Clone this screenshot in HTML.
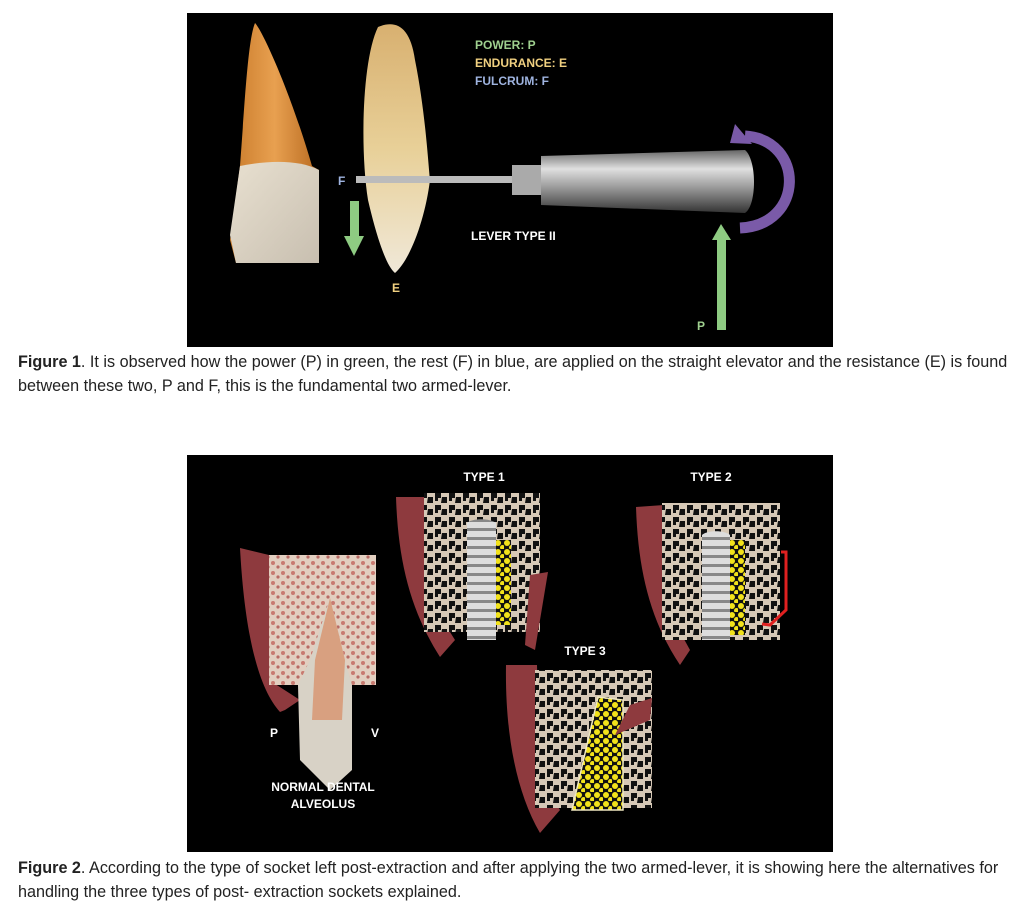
<!DOCTYPE html>
<html><head><meta charset="utf-8"><style>
html,body{margin:0;padding:0;background:#fff;width:1024px;height:911px;overflow:hidden}
svg{position:absolute;left:0;top:0}
.cap{position:absolute;left:18px;width:1018px;transform:scaleX(0.975);transform-origin:0 0;font-family:"Liberation Sans",sans-serif;font-size:16.6px;line-height:23.5px;color:#222}
.cap b{font-weight:bold}
</style></head><body>
<svg width="1024" height="911" viewBox="0 0 1024 911">
<defs>
<linearGradient id="t1" x1="0" y1="0" x2="1" y2="0"><stop offset="0" stop-color="#c87a2a"/><stop offset=".5" stop-color="#e8a050"/><stop offset="1" stop-color="#b86a20"/></linearGradient>
<linearGradient id="cr" x1="0" y1="0" x2="1" y2="1"><stop offset="0" stop-color="#e8e0d0"/><stop offset="1" stop-color="#c8bfb0"/></linearGradient>
<linearGradient id="t2" x1="0" y1="0" x2="0" y2="1"><stop offset="0" stop-color="#d8b070"/><stop offset=".5" stop-color="#e8d098"/><stop offset="1" stop-color="#f0e8d8"/></linearGradient>
<linearGradient id="hd" x1="0" y1="0" x2="0" y2="1"><stop offset="0" stop-color="#666"/><stop offset=".3" stop-color="#e0e0e0"/><stop offset=".6" stop-color="#999"/><stop offset="1" stop-color="#333"/></linearGradient>
<pattern id="bone" width="14" height="12" patternUnits="userSpaceOnUse"><rect width="14" height="12" fill="#d6c8b6"/><path d="M1 1h6v5h-3v3h-3z M8 5h5v6h-6z" fill="#111"/></pattern>
<pattern id="nb" width="10" height="10" patternUnits="userSpaceOnUse"><rect width="10" height="10" fill="#e2cfc0"/><circle cx="3" cy="3" r="2" fill="#c87a70"/><circle cx="8" cy="7" r="1.6" fill="#b86a64"/></pattern>
<pattern id="yd" width="9" height="9" patternUnits="userSpaceOnUse"><rect width="9" height="9" fill="#111"/><circle cx="3" cy="3" r="3" fill="#f2e21a"/><circle cx="7.5" cy="7.5" r="2.5" fill="#f2e21a"/></pattern>
<pattern id="th" width="10" height="9" patternUnits="userSpaceOnUse"><rect width="10" height="9" fill="#ddd"/><rect y="6" width="10" height="3" fill="#888"/></pattern>
</defs>
<rect x="187" y="13" width="646" height="334" fill="#000"/>
<path d="M255 23 C262 30 290 90 312 166 L319 170 L319 263 L236 263 L230 240 L240 166 C245 100 248 40 255 23Z" fill="url(#t1)"/>
<path d="M240 166 C270 160 300 160 319 170 L319 263 L236 263 L230 235Z" fill="url(#cr)"/>
<path d="M378 27 C395 20 410 25 415 60 C425 110 428 160 430 180 C425 220 410 260 395 273 C385 265 375 230 368 200 C360 150 362 60 378 27Z" fill="url(#t2)"/>
<rect x="356" y="176" width="156" height="7" fill="#bbb"/>
<rect x="512" y="165" width="29" height="30" fill="#aaa"/>
<path d="M541 156 L745 150 C757 160 757 205 745 213 L541 205Z" fill="url(#hd)"/>
<path d="M740 228 C805 225 805 140 745 136" fill="none" stroke="#7a5aa8" stroke-width="11"/>
<polygon points="735,124 752,144 730,143" fill="#7a5aa8"/>
<rect x="717" y="240" width="9" height="90" fill="#8ecb82"/>
<polygon points="712,240 731,240 721,224" fill="#8ecb82"/>
<rect x="350" y="201" width="9" height="36" fill="#8ecb82"/>
<polygon points="344,236 364,236 354,256" fill="#8ecb82"/>
<g font-family="Liberation Sans,sans-serif" font-weight="bold" font-size="12">
<text x="475" y="49" fill="#9fd08f">POWER: P</text>
<text x="475" y="67" fill="#f0d080">ENDURANCE: E</text>
<text x="475" y="85" fill="#9fb4e0">FULCRUM: F</text>
<text x="338" y="185" fill="#9fb4e0">F</text>
<text x="392" y="292" fill="#f0d080">E</text>
<text x="471" y="240" fill="#fff">LEVER TYPE II</text>
<text x="697" y="330" fill="#9fd08f">P</text>
</g>
<rect x="187" y="455" width="646" height="397" fill="#000"/>
<path d="M240 548 L269 555 L269 680 L300 700 L285 710 L280 712 C260 690 245 640 240 548Z" fill="#8e3a3e"/>
<rect x="269" y="555" width="107" height="130" fill="url(#nb)"/>
<path d="M330 598 L310 660 L298 685 L300 760 L330 790 L352 770 L352 685 L345 660Z" fill="#d8d2c6"/>
<path d="M330 598 L315 660 L312 720 L342 720 L345 660Z" fill="#d8a080"/>
<path d="M396 497 L425 497 L430 600 L455 640 L440 657 C410 610 398 560 396 497Z" fill="#8e3a3e"/>
<rect x="424" y="493" width="116" height="139" fill="url(#bone)"/>
<path d="M467 523 C472 518 490 518 496 523 L496 640 L467 640Z" fill="url(#th)"/>
<rect x="496" y="540" width="15" height="85" fill="url(#yd)"/>
<path d="M530 575 L548 572 L535 650 L525 645Z" fill="#8e3a3e"/>
<path d="M636 507 L664 505 L668 610 L690 650 L680 665 C650 620 638 570 636 507Z" fill="#8e3a3e"/>
<rect x="662" y="503" width="118" height="137" fill="url(#bone)"/>
<path d="M702 535 C707 530 725 530 730 535 L730 640 L702 640Z" fill="url(#th)"/>
<rect x="730" y="540" width="15" height="95" fill="url(#yd)"/>
<path d="M781 552 L786 552 L786 610 L770 625 L762 624" fill="none" stroke="#e02020" stroke-width="3"/>
<path d="M506 665 L537 665 L540 780 L560 810 L540 833 C515 790 505 730 506 665Z" fill="#8e3a3e"/>
<rect x="535" y="670" width="117" height="138" fill="url(#bone)"/>
<path d="M598 697 L623 700 L623 810 L572 810Z" fill="url(#yd)" stroke="#f0e8c0" stroke-width="1.5"/>
<path d="M630 705 L652 698 L650 720 L615 735Z" fill="#8e3a3e"/>
<g font-family="Liberation Sans,sans-serif" font-weight="bold" font-size="12" fill="#fff">
<text x="484" y="481" text-anchor="middle">TYPE 1</text>
<text x="711" y="481" text-anchor="middle">TYPE 2</text>
<text x="585" y="655" text-anchor="middle">TYPE 3</text>
<text x="274" y="737" text-anchor="middle">P</text>
<text x="375" y="737" text-anchor="middle">V</text>
<text x="323" y="791" text-anchor="middle">NORMAL DENTAL</text>
<text x="323" y="808" text-anchor="middle">ALVEOLUS</text>
</g>
</svg>
<div class="cap" style="top:350px"><b>Figure 1</b>. It is observed how the power (P) in green, the rest (F) in blue, are applied on the straight elevator and the resistance (E) is found between these two, P and F, this is the fundamental two armed-lever.</div>
<div class="cap" style="top:856px"><b>Figure 2</b>. According to the type of socket left post-extraction and after applying the two armed-lever, it is showing here the alternatives for handling the three types of post- extraction sockets explained.</div>
</body></html>
